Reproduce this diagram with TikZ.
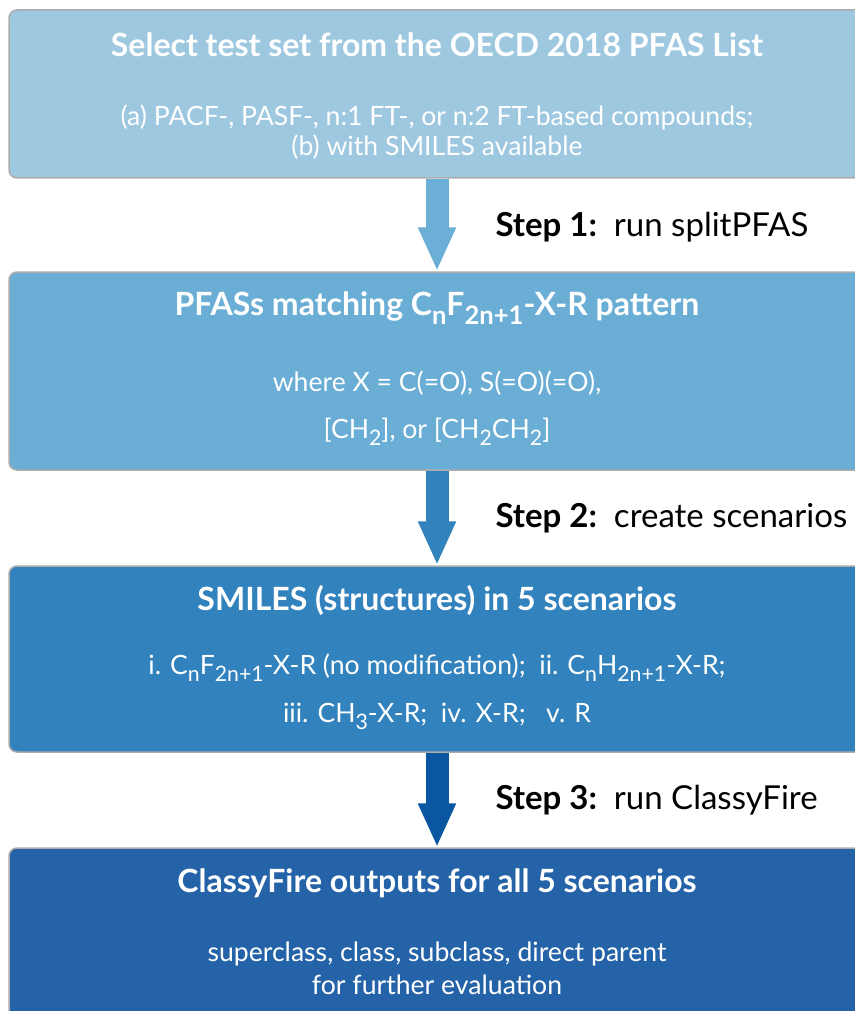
\documentclass[tikz,border=0pt]{standalone}
\usepackage{fontspec}
\setmainfont{Lato}
\usetikzlibrary{positioning,arrows.meta}

\definecolor{stageA}{HTML}{9DC8E0}
\definecolor{stageB}{HTML}{6AAED6}
\definecolor{stageC}{HTML}{3182BD}
\definecolor{stageD}{HTML}{2563A8}
\definecolor{flowA}{HTML}{6BAED6}
\definecolor{flowB}{HTML}{3182BD}
\definecolor{flowC}{HTML}{0B56A0}

\newcommand{\chemsub}[1]{\raisebox{-0.55ex}{\scalebox{0.8}{#1}}}

\tikzset{
  stage/.style={draw=gray!65, line width=1.5pt, rounded corners=8pt,
    minimum width=856pt, inner sep=0pt},
  heading/.style={text=white, font=\bfseries\fontsize{32}{36}\selectfont},
  detail/.style={text=white, align=center, font=\fontsize{26.6}{30}\selectfont},
  flow/.style={line width=23pt, -{Triangle[width=35pt,length=44pt]}},
  steplabel/.style={anchor=west, font=\fontsize{33}{38}\selectfont}
}

\def\midX{437}

\begin{document}
\begin{tikzpicture}[x=1pt,y=-1pt]
  \useasboundingbox (0,0) rectangle (854,1011);

  % stages
  \node[stage, fill=stageA, minimum height=168pt] (select) at (\midX,94) {};
  \node[stage, fill=stageB, minimum height=198pt] (match) at (\midX,371) {};
  \node[stage, fill=stageC, minimum height=186pt] (smiles) at (\midX,659) {};
  \node[stage, fill=stageD, minimum height=190pt] (outputs) at (\midX,943) {};

  \node[heading] (selectHead) at (\midX,45) {Select test set from the OECD 2018 PFAS List};
  \node[detail] (selectText) at (\midX,132)
    {(a) PACF-, PASF-, n:1 FT-, or n:2 FT-based compounds;\\
     (b) with SMILES available};

  \node[heading] (matchHead) at (\midX,308)
    {PFASs matching C\chemsub{n}F\chemsub{2n+1}-X-R pattern};
  \node[detail] (matchText) at (\midX,408)
    {where X = C(=O), S(=O)(=O),\\[17pt]
     [CH\chemsub{2}], or [CH\chemsub{2}CH\chemsub{2}]};

  \node[heading] (smilesHead) at (\midX,600) {SMILES (structures) in 5 scenarios};
  \node[detail] (smilesText) at (\midX,692)
    {i. C\chemsub{n}F\chemsub{2n+1}-X-R (no modification);\ \ 
     ii. C\chemsub{n}H\chemsub{2n+1}-X-R;\\[18pt]
     iii. CH\chemsub{3}-X-R;\ \ iv. X-R;\ \ \ v. R};

  \node[heading] (outputsHead) at (\midX,883) {ClassyFire outputs for all 5 scenarios};
  \node[detail] (outputsText) at (\midX,968)
    {superclass, class, subclass, direct parent\\[3pt]
     for further evaluation};

  % steps
  \draw[flow, flowA] (select.south) -- (match.north);
  \draw[flow, flowB] (match.south) -- (smiles.north);
  \draw[flow, flowC] (smiles.south) -- (outputs.north);

  \node[steplabel] (step1) at (492,227) {\textbf{Step 1:}\ \ run splitPFAS};
  \node[steplabel] (step2) at (492,518) {\textbf{Step 2:}\ \ create scenarios};
  \node[steplabel] (step3) at (492,800) {\textbf{Step 3:}\ \ run ClassyFire};
\end{tikzpicture}
\end{document}
